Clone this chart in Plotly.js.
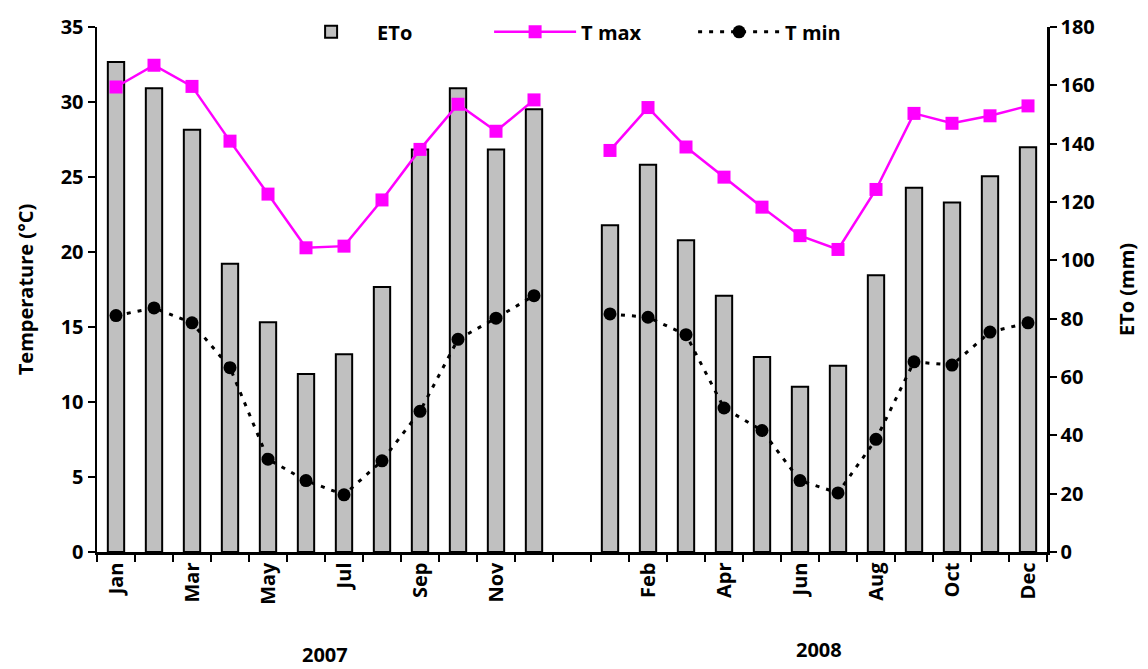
<!DOCTYPE html>
<html>
<head>
<meta charset="utf-8">
<script src="https://cdn.plot.ly/plotly-3.0.1.min.js"></script>
<style>html,body{margin:0;padding:0;background:#fff;}#chart{width:1148px;height:669px;}</style>
</head>
<body>
<div id="chart"></div>
<script>
// ---- Data ----
const months = ['Jan','Feb','Mar','Apr','May','Jun','Jul','Aug','Sep','Oct','Nov','Dec'];
const eto2007  = [168.0, 159.0, 144.8, 98.8, 78.8, 61.0, 67.8, 90.9, 138.0, 159.0, 138.0, 151.8];
const tmax2007 = [31.0, 32.45, 31.04, 27.39, 23.86, 20.28, 20.39, 23.47, 26.84, 29.85, 28.05, 30.14];
const tmin2007 = [15.76, 16.27, 15.28, 12.29, 6.19, 4.76, 3.81, 6.08, 9.38, 14.18, 15.59, 17.09];
const eto2008  = [112.0, 132.8, 106.9, 87.9, 66.9, 56.7, 63.9, 94.9, 124.9, 119.8, 128.8, 138.8];
const tmax2008 = [26.77, 29.63, 27.0, 24.99, 22.99, 21.09, 20.17, 24.17, 29.24, 28.58, 29.08, 29.74];
const tmin2008 = [15.87, 15.65, 14.49, 9.6, 8.1, 4.76, 3.94, 7.51, 12.68, 12.46, 14.66, 15.28];
const tickLabels2007 = ['Jan','Mar','May','Jul','Sep','Nov'];
const tickLabels2008 = ['Feb','Apr','Jun','Aug','Oct','Dec'];
const years = ['2007','2008'];

// ---- Build categories (one empty slot between years) ----
const gapCat = ' ';
const cats = [];
const ticktext = [];
months.forEach(m => { cats.push('2007 ' + m); ticktext.push(tickLabels2007.includes(m) ? m : ''); });
cats.push(gapCat); ticktext.push('');
months.forEach(m => { cats.push('2008 ' + m); ticktext.push(tickLabels2008.includes(m) ? m : ''); });

const eto  = [...eto2007, null, ...eto2008];
const tmax = [...tmax2007, null, ...tmax2008];
const tmin = [...tmin2007, null, ...tmin2008];

const FONT = '"Open Sans", Lato, sans-serif';
const f = (s) => ({family: FONT, size: s, color: '#000', weight: 'bold'});

// Bars on the base axis (ETo, drawn on the right side); temperatures on the overlaying axis so they sit on top.
const traces = [
  {
    type: 'bar', name: 'ETo', x: cats, y: eto, yaxis: 'y',
    width: 0.43,
    marker: {color: '#C0C0C0', line: {color: '#000', width: 2}}
  },
  {
    type: 'scatter', mode: 'lines+markers', name: 'T max', x: cats, y: tmax, yaxis: 'y2',
    connectgaps: false,
    line: {color: '#FF00FF', width: 2.5},
    marker: {symbol: 'square', size: 13, color: '#FF00FF'}
  },
  {
    type: 'scatter', mode: 'lines+markers', name: 'T min', x: cats, y: tmin, yaxis: 'y2',
    connectgaps: false,
    line: {color: '#000', width: 3, dash: '4px,7px'},
    marker: {symbol: 'circle', size: 13, color: '#000'}
  }
];

const midIdx2007 = (0 + 11) / 2;
const midIdx2008 = (13 + 24) / 2;

const layout = {
  width: 1148, height: 669,
  margin: {l: 97, r: 101, t: 22, b: 117},
  paper_bgcolor: '#fff', plot_bgcolor: '#fff',
  font: f(20),
  showlegend: true,
  legend: {
    orientation: 'h', x: 0.198, xanchor: 'left', y: 1.028, yanchor: 'top',
    bgcolor: 'rgba(0,0,0,0)', itemwidth: 82, entrywidth: 107, traceorder: 'normal',
    font: f(20)
  },
  bargap: 0,
  xaxis: {
    type: 'category', categoryorder: 'array', categoryarray: cats,
    tickmode: 'array', tickvals: cats, ticktext: ticktext,
    tickangle: -90, tickson: 'boundaries',
    ticks: 'outside', ticklen: 7, tickwidth: 2, tickcolor: '#000',
    showline: true, linecolor: '#000', linewidth: 2.5,
    showgrid: false, zeroline: false,
    range: [-0.5, 24.5],
    tickfont: f(20)
  },
  yaxis: {
    side: 'right',
    range: [0, 180], dtick: 20, tick0: 0,
    ticks: 'outside', ticklen: 7, tickwidth: 2, tickcolor: '#000',
    showline: true, linecolor: '#000', linewidth: 2.5,
    showgrid: false, zeroline: false,
    title: {text: 'ETo (mm)', font: f(20), standoff: 26},
    tickfont: f(20)
  },
  yaxis2: {
    overlaying: 'y', side: 'left',
    range: [0, 35], dtick: 5, tick0: 0,
    ticks: 'outside', ticklen: 7, tickwidth: 2, tickcolor: '#000',
    showline: true, linecolor: '#000', linewidth: 2.5,
    showgrid: false, zeroline: false,
    title: {text: 'Temperature (°C)', font: f(20), standoff: 22},
    tickfont: f(20)
  },
  annotations: [
    {text: years[0], x: midIdx2007, xref: 'x', y: 0, yref: 'paper', yanchor: 'middle', yshift: -102,
     showarrow: false, font: f(20)},
    {text: years[1], x: midIdx2008, xref: 'x', y: 0, yref: 'paper', yanchor: 'middle', yshift: -97,
     showarrow: false, font: f(20)}
  ]
};

Plotly.newPlot('chart', traces, layout, {displayModeBar: false, staticPlot: true});
</script>
</body>
</html>
